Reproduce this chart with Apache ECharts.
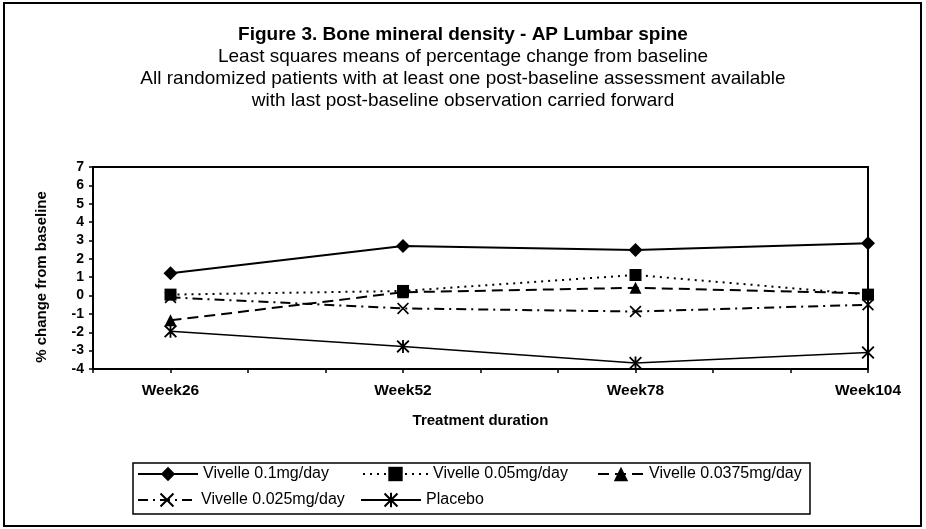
<!DOCTYPE html>
<html>
<head>
<meta charset="utf-8">
<script src="https://cdn.jsdelivr.net/npm/echarts@6/dist/echarts.min.js"></script>
<style>
html,body{margin:0;padding:0;background:#fff;}
#chart{width:926px;height:529px;}
</style>
</head>
<body>
<div id="chart"></div>
<script>
// ---- data ----
const categories = ['Week26', 'Week52', 'Week78', 'Week104'];
const weeks = [26, 52, 78, 104];
const seriesNames = ['Vivelle 0.1mg/day', 'Vivelle 0.05mg/day', 'Vivelle 0.0375mg/day', 'Vivelle 0.025mg/day', 'Placebo'];
const vivelle01 = [1.22, 2.7, 2.48, 2.85];
const vivelle005 = [0.05, 0.25, 1.12, 0.05];
const vivelle00375 = [-1.35, 0.18, 0.42, 0.12];
const vivelle0025 = [-0.1, -0.7, -0.87, -0.5];
const placebo = [-1.95, -2.77, -3.67, -3.1];
const yMin = -4, yMax = 7, yStep = 1;
const titleLines = [
  'Figure 3. Bone mineral density - AP Lumbar spine',
  'Least squares means of percentage change from baseline',
  'All randomized patients with at least one post-baseline assessment available',
  'with last post-baseline observation carried forward'
];
const xAxisTitle = 'Treatment duration';
const yAxisTitle = '% change from baseline';

// ---- styling ----
const FONT = '"Liberation Sans", Arial, sans-serif';
const X_SYM = 'path://M0,1L1,0L5,4L9,0L10,1L6,5L10,9L9,10L5,6L1,10L0,9L4,5Z';
const STAR_SYM = 'path://M0,1L1,0L5,4L9,0L10,1L6,5L10,9L9,10L5,6L1,10L0,9L4,5Z M4.3,0L5.7,0L5.7,10L4.3,10Z';
const styles = [
  {symbol: 'diamond', size: 14, type: 'solid', width: 2},
  {symbol: 'rect', size: 12, type: [2, 5], width: 2},
  {symbol: 'triangle', size: 12, type: [11, 6], width: 2},
  {symbol: X_SYM, size: 12, type: [10, 5, 2, 5], width: 2},
  {symbol: STAR_SYM, size: 13, type: 'solid', width: 1.5}
];
const values = [vivelle01, vivelle005, vivelle00375, vivelle0025, placebo];

const step = 26 / 3;
const chart = echarts.init(document.getElementById('chart'), null, {renderer: 'canvas'});

const titleCenters = [35, 57, 79, 101];
const title = titleLines.map((t, i) => ({
  text: t,
  left: 'center',
  top: titleCenters[i] - 11,
  padding: 0,
  textStyle: {
    fontFamily: FONT, fontSize: 19, fontWeight: i === 0 ? 'bold' : 'normal',
    color: '#000', lineHeight: 22
  }
}));

// [left, rowCenterY, iconWidth]
const legendPos = [[137, 475, 60], [362, 475, 65], [597, 475, 46], [137, 501, 58], [360, 501, 60]];
const legend = seriesNames.map((n, i) => ({
  data: [n],
  left: legendPos[i][0],
  top: legendPos[i][1] - 9,
  padding: 0,
  itemWidth: legendPos[i][2],
  itemHeight: 18,
  itemGap: 0,
  textStyle: {fontFamily: FONT, fontSize: 16, color: '#000'},
  inactiveColor: '#000'
}));

const series = seriesNames.map((n, i) => ({
  name: n,
  type: 'line',
  data: weeks.map((w, j) => [w, values[i][j]]),
  symbol: styles[i].symbol,
  symbolSize: styles[i].size,
  showAllSymbol: true,
  itemStyle: {color: '#000'},
  lineStyle: {color: '#000', width: styles[i].width, type: styles[i].type},
  z: 10 - i,
  animation: false
}));

chart.setOption({
  backgroundColor: '#fff',
  animation: false,
  title,
  legend,
  grid: {left: 93, top: 167, right: 58, bottom: 160, show: true, borderColor: '#000', borderWidth: 2, backgroundColor: 'transparent'},
  xAxis: {
    type: 'value',
    min: 2 * step,
    max: 104,
    interval: step,
    name: xAxisTitle,
    nameLocation: 'middle',
    nameGap: 44,
    nameTextStyle: {fontFamily: FONT, fontSize: 15, fontWeight: 'bold', color: '#000'},
    axisLine: {show: true, onZero: false, lineStyle: {color: '#000', width: 2}},
    axisTick: {show: true, inside: false, length: 4, lineStyle: {color: '#000', width: 1.5}},
    splitLine: {show: false},
    axisLabel: {
      margin: 14,
      fontFamily: FONT, fontSize: 15.5, fontWeight: 'bold', color: '#000',
      showMinLabel: true, showMaxLabel: true,
      formatter: v => {
        const k = weeks.findIndex(w => Math.abs(w - v) < 0.01);
        return k >= 0 ? categories[k] : '';
      }
    }
  },
  yAxis: {
    type: 'value',
    min: yMin, max: yMax, interval: yStep,
    name: yAxisTitle,
    nameLocation: 'middle',
    nameGap: 44,
    nameTextStyle: {fontFamily: FONT, fontSize: 15, fontWeight: 'bold', color: '#000', padding: [0, 18, 0, 0]},
    axisLine: {show: true, lineStyle: {color: '#000', width: 2}},
    axisTick: {show: true, inside: false, length: 4, lineStyle: {color: '#000', width: 1.5}},
    splitLine: {show: false},
    axisLabel: {margin: 9, fontFamily: FONT, fontSize: 14, fontWeight: 'bold', color: '#000'}
  },
  graphic: [
    {type: 'rect', shape: {x: 4, y: 3, width: 917, height: 523}, style: {fill: 'none', stroke: '#000', lineWidth: 2}, silent: true, z: -1},
    {type: 'rect', shape: {x: 133, y: 463, width: 677, height: 51}, style: {fill: 'none', stroke: '#000', lineWidth: 1.5}, silent: true, z: -1}
  ],
  series
});
</script>
</body>
</html>
